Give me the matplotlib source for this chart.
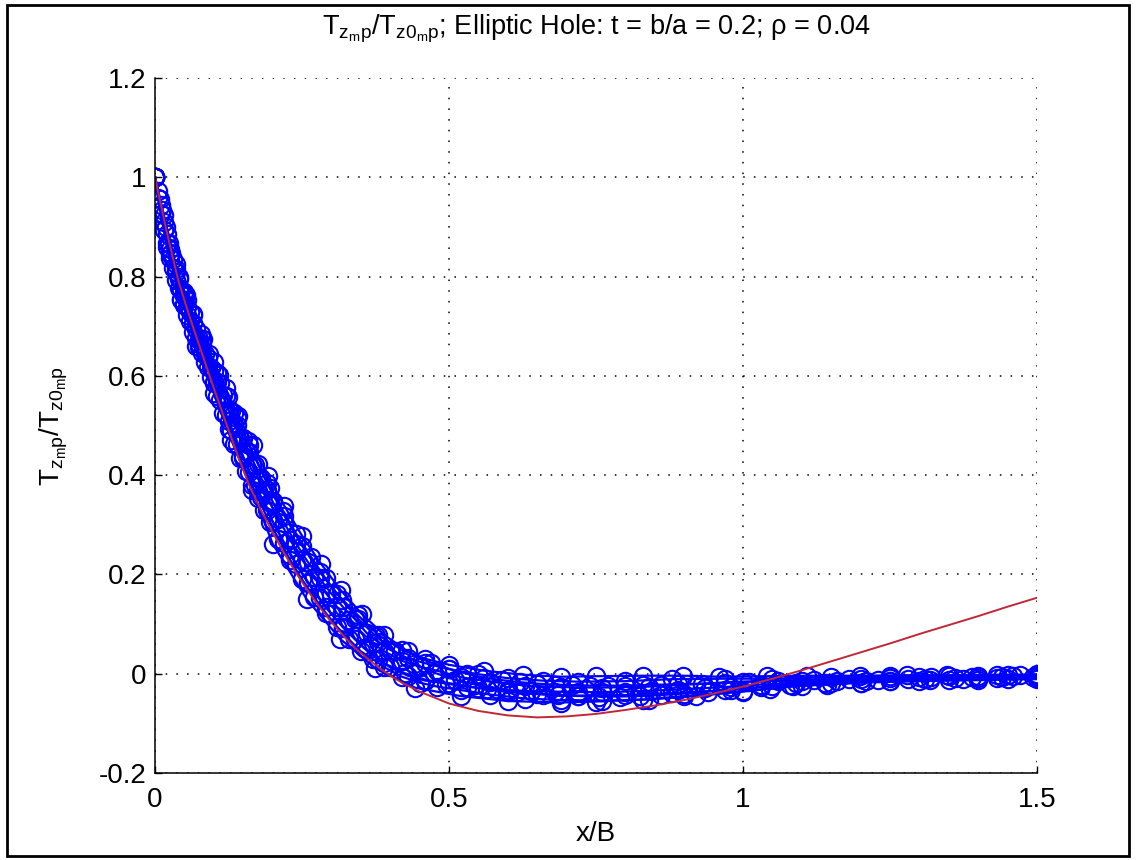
import matplotlib
matplotlib.use("Agg")
import matplotlib.pyplot as plt
from matplotlib.patches import Rectangle

plt.rcParams['font.family'] = ['Liberation Sans', 'DejaVu Sans']
plt.rcParams['mathtext.fontset'] = 'custom'
plt.rcParams['mathtext.rm'] = 'Liberation Sans'
plt.rcParams['mathtext.it'] = 'Liberation Sans:italic'

# x grids of the sampled blue runs
x_g1 = [0, 0.01, 0.02, 0.03, 0.04, 0.05, 0.06, 0.07, 0.08, 0.09, 0.10, 0.11, 0.12,
        0.13, 0.14, 0.15, 0.16, 0.17, 0.18, 0.19, 0.20, 0.22, 0.24, 0.26, 0.28, 0.30,
        0.32, 0.34, 0.36, 0.38, 0.40, 0.43, 0.46, 0.50, 0.55, 0.60, 0.66, 0.72, 0.80,
        0.88, 0.97, 1.05, 1.15, 1.25, 1.35, 1.45, 1.50]
x_g2 = [0, 0.005, 0.015, 0.025, 0.035, 0.045, 0.055, 0.065, 0.075, 0.085, 0.095, 0.105,
        0.115, 0.125, 0.135, 0.145, 0.155, 0.165, 0.175, 0.185, 0.195, 0.21, 0.23, 0.25,
        0.27, 0.29, 0.31, 0.33, 0.35, 0.37, 0.39, 0.42, 0.45, 0.48, 0.52, 0.57, 0.63,
        0.69, 0.76, 0.84, 0.92, 1.00, 1.10, 1.20, 1.30, 1.40, 1.50]
x_g3 = [0, 0.02, 0.045, 0.07, 0.10, 0.13, 0.165, 0.20, 0.258, 0.315, 0.374, 0.442, 0.52,
        0.60, 0.69, 0.75, 0.83, 0.90, 1.00, 1.046, 1.085, 1.143, 1.20, 1.25, 1.318,
        1.374, 1.432, 1.493]
x_g4 = [0, 0.015, 0.035, 0.055, 0.08, 0.105, 0.135, 0.16, 0.19, 0.22, 0.25, 0.28, 0.31,
        0.345, 0.38, 0.42, 0.46, 0.50, 0.56, 0.626, 0.69, 0.75, 0.83, 0.898, 0.96, 1.04,
        1.109, 1.199, 1.279, 1.347, 1.432, 1.471, 1.50]
x_g5 = [0, 0.008, 0.018, 0.028, 0.04, 0.052, 0.064, 0.078, 0.092, 0.108, 0.124, 0.14,
        0.158, 0.176, 0.196, 0.218, 0.24, 0.265, 0.29, 0.318, 0.346, 0.376, 0.408, 0.44,
        0.475, 0.51, 0.545, 0.58, 0.615, 0.65, 0.685, 0.72, 0.755, 0.79, 0.825, 0.86,
        0.90, 0.94, 0.98, 1.03, 1.08, 1.14, 1.21, 1.28, 1.36, 1.44, 1.50]
x_g6 = [0, 0.012, 0.024, 0.036, 0.05, 0.065, 0.082, 0.10, 0.12, 0.142, 0.166, 0.192,
        0.22, 0.25, 0.282, 0.316, 0.352, 0.39, 0.43, 0.47, 0.50, 0.53, 0.56, 0.59, 0.62,
        0.65, 0.68, 0.71, 0.74, 0.77, 0.80, 0.83, 0.86, 0.89, 0.93, 0.97, 1.01, 1.06,
        1.12, 1.18, 1.25, 1.32, 1.39, 1.46, 1.50]
x_g7 = [0, 0.025, 0.05, 0.075, 0.10, 0.125, 0.15, 0.175, 0.20, 0.23, 0.26, 0.29, 0.32,
        0.355, 0.39, 0.425, 0.46, 0.495, 0.53, 0.565, 0.60, 0.64, 0.68, 0.72, 0.76, 0.80,
        0.845, 0.89, 0.935, 0.98, 1.03, 1.09, 1.16, 1.23, 1.31, 1.40, 1.50]

s1 = [1.000, 0.945, 0.885, 0.835, 0.795, 0.760, 0.728, 0.695, 0.665, 0.635, 0.610, 0.585,
      0.560, 0.530, 0.502, 0.475, 0.447, 0.420, 0.395, 0.370, 0.347, 0.303, 0.262, 0.225,
      0.192, 0.161, 0.134, 0.110, 0.082, 0.063, 0.048, 0.031, 0.021, 0.009, -0.001, -0.009,
      -0.014, -0.016, -0.015, -0.011, -0.010, -0.010, -0.007, -0.005, -0.004, -0.003, -0.002]
s2 = [1.000, 0.927, 0.867, 0.817, 0.777, 0.742, 0.710, 0.677, 0.647, 0.617, 0.585, 0.552,
      0.521, 0.490, 0.462, 0.435, 0.407, 0.380, 0.355, 0.330, 0.307, 0.263, 0.222, 0.185,
      0.152, 0.121, 0.094, 0.070, 0.047, 0.028, 0.013, -0.004, -0.014, -0.019, -0.029,
      -0.037, -0.042, -0.044, -0.043, -0.039, -0.033, -0.025, -0.018, -0.014, -0.012,
      -0.010, -0.009]
s3 = [1.000, 0.972, 0.910, 0.855, 0.810, 0.772, 0.739, 0.706, 0.675, 0.645, 0.615, 0.588,
      0.561, 0.532, 0.503, 0.475, 0.448, 0.420, 0.394, 0.369, 0.345, 0.312, 0.269, 0.230,
      0.195, 0.163, 0.134, 0.109, 0.085, 0.062, 0.045, 0.026, 0.014, 0.006, -0.007, -0.016,
      -0.024, -0.027, -0.028, -0.026, -0.021, -0.016, -0.014, -0.010, -0.007, -0.005, -0.003]
s4 = [1.000, 0.958, 0.893, 0.838, 0.793, 0.755, 0.722, 0.689, 0.658, 0.628, 0.598, 0.560,
      0.525, 0.492, 0.463, 0.435, 0.408, 0.380, 0.354, 0.329, 0.305, 0.272, 0.229, 0.190,
      0.155, 0.123, 0.094, 0.069, 0.045, 0.030, 0.013, -0.006, -0.018, -0.026, -0.033,
      -0.042, -0.050, -0.053, -0.054, -0.052, -0.045, -0.036, -0.024, -0.018, -0.015,
      -0.013, -0.011]
s5 = [1.000, 0.860, 0.752, 0.660, 0.565, 0.470, 0.370, 0.262, 0.150, 0.070, 0.012, -0.028,
      -0.045, -0.055, -0.058, -0.056, -0.052, -0.045, -0.035, -0.030, -0.025, -0.022,
      -0.018, -0.014, -0.012, -0.010, -0.008, -0.006]
s6 = [1.000, 0.925, 0.825, 0.752, 0.675, 0.605, 0.525, 0.460, 0.385, 0.318, 0.258, 0.205,
      0.160, 0.118, 0.078, 0.048, 0.030, 0.018, 0.006, -0.002, -0.006, -0.005, -0.004,
      -0.004, -0.006, -0.005, -0.004, -0.004, -0.003, -0.003, -0.002, -0.002, -0.001]
s7 = [1.000, 0.957, 0.899, 0.848, 0.800, 0.762, 0.725, 0.685, 0.645, 0.602, 0.558, 0.515,
      0.468, 0.422, 0.375, 0.328, 0.282, 0.236, 0.192, 0.148, 0.110, 0.075, 0.045, 0.020,
      0.002, -0.012, -0.022, -0.030, -0.036, -0.040, -0.043, -0.045, -0.046, -0.046,
      -0.045, -0.043, -0.040, -0.036, -0.032, -0.027, -0.022, -0.018, -0.014, -0.011,
      -0.009, -0.007, -0.006]
s8 = [1.000, 0.935, 0.868, 0.816, 0.768, 0.722, 0.675, 0.628, 0.575, 0.520, 0.460, 0.398,
      0.338, 0.278, 0.222, 0.168, 0.120, 0.078, 0.045, 0.022, 0.010, 0.000, -0.008, -0.013,
      -0.017, -0.020, -0.022, -0.023, -0.024, -0.024, -0.024, -0.023, -0.022, -0.021,
      -0.020, -0.018, -0.016, -0.014, -0.012, -0.010, -0.008, -0.007, -0.006, -0.005,
      -0.005]
s9 = [1.000, 0.846, 0.745, 0.664, 0.588, 0.510, 0.438, 0.368, 0.307, 0.240, 0.183, 0.134,
      0.093, 0.052, 0.021, 0.001, -0.012, -0.020, -0.026, -0.030, -0.033, -0.035, -0.036,
      -0.037, -0.037, -0.036, -0.034, -0.032, -0.029, -0.026, -0.022, -0.018, -0.015,
      -0.012, -0.010, -0.008, -0.006]

# red reference curve
x_red = [0.00, 0.02, 0.04, 0.06, 0.08, 0.10, 0.12, 0.14, 0.16, 0.18, 0.20, 0.22, 0.24,
         0.26, 0.28, 0.30, 0.32, 0.34, 0.36, 0.38, 0.40, 0.42, 0.45, 0.50, 0.55, 0.60,
         0.65, 0.70, 0.75, 0.80, 0.85, 0.90, 0.95, 1.00, 1.05, 1.10, 1.15, 1.20, 1.25,
         1.30, 1.35, 1.40, 1.45, 1.50]
y_red = [1.000, 0.890, 0.790, 0.715, 0.645, 0.575, 0.508, 0.442, 0.380, 0.330, 0.285,
         0.242, 0.203, 0.167, 0.134, 0.104, 0.077, 0.052, 0.032, 0.013, -0.004, -0.018,
         -0.036, -0.060, -0.075, -0.084, -0.088, -0.086, -0.081, -0.073, -0.064, -0.053,
         -0.040, -0.026, -0.010, 0.007, 0.025, 0.043, 0.061, 0.080, 0.098, 0.116, 0.135,
         0.153]

x_ticks = [0, 0.5, 1, 1.5]
x_tick_labels = ['0', '0.5', '1', '1.5']
y_ticks = [-0.2, 0, 0.2, 0.4, 0.6, 0.8, 1, 1.2]
y_tick_labels = ['-0.2', '0', '0.2', '0.4', '0.6', '0.8', '1', '1.2']

fig = plt.figure(figsize=(11.36, 8.6), dpi=100)
ax = fig.add_axes([155 / 1136, 1 - 773 / 860, 882 / 1136, 695 / 860])

blue_runs = [(x_g1, s1), (x_g1, s2), (x_g2, s3), (x_g2, s4), (x_g3, s5), (x_g4, s6),
             (x_g5, s7), (x_g6, s8), (x_g7, s9)]
for xs, ys in blue_runs:
    ax.plot(xs, ys, '-o', color='#0000ff', lw=1.6, ms=12.5, mfc='none', mew=1.5)
ax.plot(x_red, y_red, color='#c02838', lw=1.4)

ax.set_xlim(0, 1.5)
ax.set_ylim(-0.2, 1.2)
ax.set_xticks(x_ticks)
ax.set_xticklabels(x_tick_labels)
ax.set_yticks(y_ticks)
ax.set_yticklabels(y_tick_labels)
ax.grid(True, color='black', linestyle=(0, (1, 6)), lw=1.1)
for side in ['top', 'right']:
    ax.spines[side].set_visible(False)
for side in ['left', 'bottom']:
    ax.spines[side].set_linewidth(1.1)
ax.tick_params(direction='in', length=5, width=1.0, labelsize=20)
ax.tick_params(axis='x', pad=10)
ax.tick_params(axis='y', pad=6)

ax.set_xlabel('x/B', fontsize=20, labelpad=6)
ax.set_ylabel(r'$\mathregular{T_{z_m p}/T_{z0_m p}}$', fontsize=20, labelpad=21)
ax.set_title(r'$\mathregular{T_{z_m p}/T_{z0_m p}}$; Elliptic Hole: t = b/a = 0.2; ρ = 0.04',
             fontsize=19.5, pad=31)

fig.patches.append(Rectangle((7 / 1136, 4 / 860), 1122 / 1136, 851 / 860,
                             transform=fig.transFigure, fill=False, ec='black', lw=2.0))

fig.savefig('out.png', dpi=100)
